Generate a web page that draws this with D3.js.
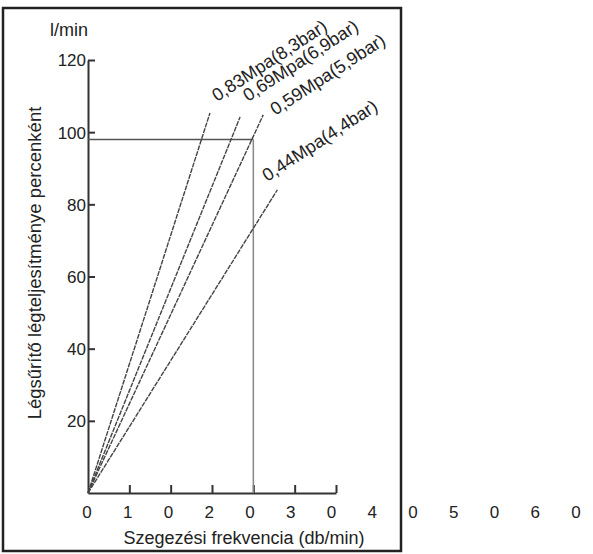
<!DOCTYPE html>
<html>
<head>
<meta charset="utf-8">
<script src="https://cdn.jsdelivr.net/npm/d3@7"></script>
<style>
  body { margin: 0; background: #fff; }
  svg { display: block; font-family: "Liberation Sans", Arial, sans-serif; }
  .axis path, .axis line { stroke: #333; stroke-width: 2; }
  .axis text { font-size: 17px; fill: #222; }
</style>
</head>
<body>
<script>
// pressure series: name, end point of the line (db/min, l/min)
const seriesNames = ['0,83Mpa(8,3bar)', '0,69Mpa(6,9bar)', '0,59Mpa(5,9bar)', '0,44Mpa(4,4bar)'];
const seriesEndX = [29.5, 36.8, 42.4, 45.8];
const seriesEndY = [105.3, 104.2, 104.8, 84];

// reference reading (the box drawn on the chart)
const refX = 40;
const refY = 98;

const yTicks = [20, 40, 60, 80, 100, 120];
const xTicks = [10, 20, 30, 40, 50, 60];
const xTickLabels = ['0', '1', '0', '2', '0', '3', '0', '4', '0', '5', '0', '6', '0'];

const width = 593;
const height = 554;

// label offsets from the line ends (px)
const labelOffsets = [[7, -11], [8, -15], [12, 1], [-10, -8]];

const svg = d3.select('body').append('svg')
    .attr('width', width)
    .attr('height', height);

// outer frame
svg.append('rect')
    .attr('x', 3)
    .attr('y', 8)
    .attr('width', 398)
    .attr('height', 543)
    .attr('fill', 'none')
    .attr('stroke', '#222')
    .attr('stroke-width', 2.5);

const xScale = d3.scaleLinear().domain([0, 60]).range([88, 336]);
const yScale = d3.scaleLinear().domain([0, 120]).range([493, 60]);

// y axis, ticks pointing inward
svg.append('g')
    .attr('class', 'y axis')
    .attr('transform', `translate(${xScale(0)},0)`)
    .call(d3.axisLeft(yScale).tickValues(yTicks).tickSize(-7).tickSizeOuter(0).tickPadding(2))
    .call(g => g.selectAll('text').attr('text-anchor', 'end').attr('dy', '0.35em'));

// x axis, ticks pointing up, no built-in labels
svg.append('g')
    .attr('class', 'x axis')
    .attr('transform', `translate(0,${yScale(0)})`)
    .call(d3.axisBottom(xScale).tickValues(xTicks).tickSize(-8).tickSizeOuter(0).tickFormat(''));

// the odd spread-out tick labels
const labelScale = d3.scaleLinear().domain([0, xTickLabels.length - 1]).range([87, 576]);
svg.append('g')
    .selectAll('text')
    .data(xTickLabels)
  .enter().append('text')
    .attr('x', (d, i) => labelScale(i))
    .attr('y', 518)
    .attr('text-anchor', 'middle')
    .attr('font-size', 17)
    .attr('fill', '#222')
    .text(d => d);

// axis titles
svg.append('text')
    .attr('x', 244)
    .attr('y', 544)
    .attr('text-anchor', 'middle')
    .attr('font-size', 18)
    .attr('fill', '#222')
    .text('Szegezési frekvencia (db/min)');

svg.append('text')
    .attr('transform', 'translate(41,263) rotate(-90)')
    .attr('text-anchor', 'middle')
    .attr('font-size', 18.5)
    .attr('fill', '#222')
    .text('Légsűrítő légteljesítménye percenként');

svg.append('text')
    .attr('x', 50)
    .attr('y', 36)
    .attr('font-size', 18)
    .attr('fill', '#222')
    .text('l/min');

// reference box
svg.append('line')
    .attr('x1', xScale(0))
    .attr('x2', xScale(refX))
    .attr('y1', yScale(refY))
    .attr('y2', yScale(refY))
    .attr('stroke', '#555')
    .attr('stroke-width', 1.5);

svg.append('line')
    .attr('x1', xScale(refX))
    .attr('x2', xScale(refX))
    .attr('y1', yScale(refY))
    .attr('y2', yScale(0))
    .attr('stroke', '#888')
    .attr('stroke-width', 1.5);

// pressure lines
const line = d3.line().x(d => xScale(d[0])).y(d => yScale(d[1]));
seriesNames.forEach((name, i) => {
  svg.append('path')
      .attr('d', line([[0, 0], [seriesEndX[i], seriesEndY[i]]]))
      .attr('fill', 'none')
      .attr('stroke', '#444')
      .attr('stroke-width', 1.4)
      .attr('stroke-dasharray', '5,1');

  const lx = xScale(seriesEndX[i]) + labelOffsets[i][0];
  const ly = yScale(seriesEndY[i]) + labelOffsets[i][1];
  svg.append('text')
      .attr('transform', `translate(${lx},${ly}) rotate(-33)`)
      .attr('font-size', 18)
      .attr('fill', '#222')
      .text(name);
});
</script>
</body>
</html>
